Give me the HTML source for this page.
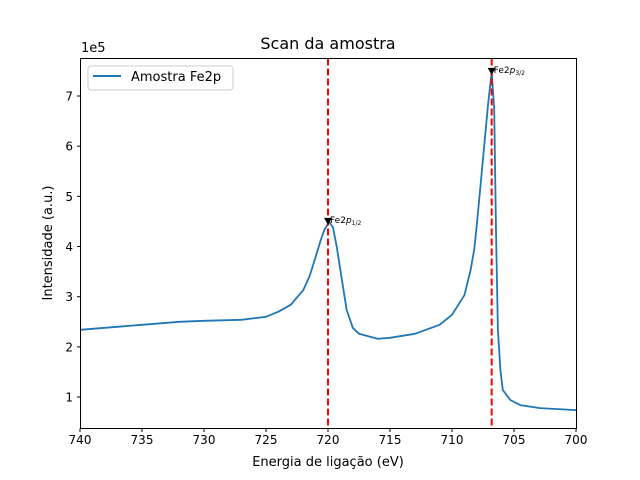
<!DOCTYPE html>
<html><head><meta charset="utf-8"><style>
body{margin:0;background:#fff;}
svg{display:block;font-family:"DejaVu Sans","Liberation Sans",sans-serif;}
</style></head><body>
<svg id="chart" width="640" height="480" viewBox="0 0 640 480">
<rect width="640" height="480" fill="#fff"/>
<text x="328" y="49" font-size="16" text-anchor="middle">Scan da amostra</text>
<text x="328" y="466" font-size="13" text-anchor="middle">Energia de ligação (eV)</text>
<text x="52" y="243" font-size="13" text-anchor="middle" transform="rotate(-90 52 243)">Intensidade (a.u.)</text>
<text x="81" y="52" font-size="13">1e5</text>
<g id="ticks"></g>
<g id="plot"></g>
<rect x="80.5" y="58.5" width="496" height="370" fill="none" stroke="#000" stroke-width="1"/>
<g>
<rect x="88" y="66" width="145" height="24" rx="3" fill="#fff" fill-opacity="0.8" stroke="#ccc"/>
<line x1="93" y1="76" x2="121" y2="76" stroke="#1f77b4" stroke-width="2"/>
<text x="131" y="81" font-size="13">Amostra Fe2p</text>
</g>
</svg>
<script>
const energies=[740,737,735,732,730,727,725,724,723,722,721.5,721,720.6,720.3,719.9,719.6,719.3,719,718.5,718,717.5,716,715,713,711,710,709,708.5,708.2,708,707.6,707.1,706.8,706.6,706.45,706.3,706.1,705.9,705.3,704.5,702.9,700];
const intensity=[2.34,2.4,2.44,2.5,2.52,2.54,2.6,2.7,2.84,3.13,3.4,3.79,4.12,4.33,4.49,4.38,4.0,3.53,2.74,2.38,2.26,2.16,2.18,2.26,2.44,2.64,3.03,3.53,3.95,4.43,5.49,6.82,7.48,6.73,4.33,2.34,1.54,1.14,0.94,0.84,0.78,0.74];
const xTicks=[740,735,730,725,720,715,710,705,700];
const yTicks=[1,2,3,4,5,6,7];
const peaks=[720,706.8];
const peakVals=[4.49,7.48];
const peakLabels=["1/2","3/2"];
const X=e=>80+(740-e)*12.4;
const Y=v=>447.2-v*50.17;
const NS="http://www.w3.org/2000/svg";
const mk=(t,a,p)=>{const el=document.createElementNS(NS,t);for(const k in a)el.setAttribute(k,a[k]);p.appendChild(el);return el;};
const tk=document.getElementById('ticks'),pl=document.getElementById('plot');
xTicks.forEach(t=>{const x=X(t);
 const l=mk('line',{x1:x,x2:x,y1:428.5,y2:432,stroke:'#000'},tk);
 
 
 const s=mk('text',{x:x,y:444,'font-size':12,'text-anchor':'middle'},tk);s.textContent=t;
 
 });
yTicks.forEach(t=>{const y=Y(t);
 const l=mk('line',{x1:77,x2:80.5,y1:y,y2:y,stroke:'#000'},tk);
 
 
 const s=mk('text',{x:73,y:y+4.5,'font-size':12,'text-anchor':'end'},tk);s.textContent=t;
 
 });
const path=mk('path',{d:energies.map((e,i)=>(i?'L':'M')+X(e).toFixed(1)+' '+Y(intensity[i]).toFixed(1)).join(''),fill:'none',stroke:'#1f77b4','stroke-width':1.8,'stroke-linejoin':'round'},pl);


peaks.forEach((p,i)=>{const x=X(p);
 const l=mk('line',{x1:x,x2:x,y1:58.5,y2:428.5,stroke:'#ff0000','stroke-width':2,'stroke-dasharray':'7,3'},pl);
 
 
 const y=Y(peakVals[i]);
 const m=mk('path',{d:`M${x-4} ${y-4}L${x+4} ${y-4}L${x} ${y+3}Z`,fill:'#000'},pl);
 
 
 const t=mk('text',{x:x+2,y:y+1,'font-size':9},pl);
 
 
 t.innerHTML='Fe2<tspan font-style="italic">p</tspan><tspan font-size="6" dy="2">'+peakLabels[i]+'</tspan>';});
</script>
</body></html>
